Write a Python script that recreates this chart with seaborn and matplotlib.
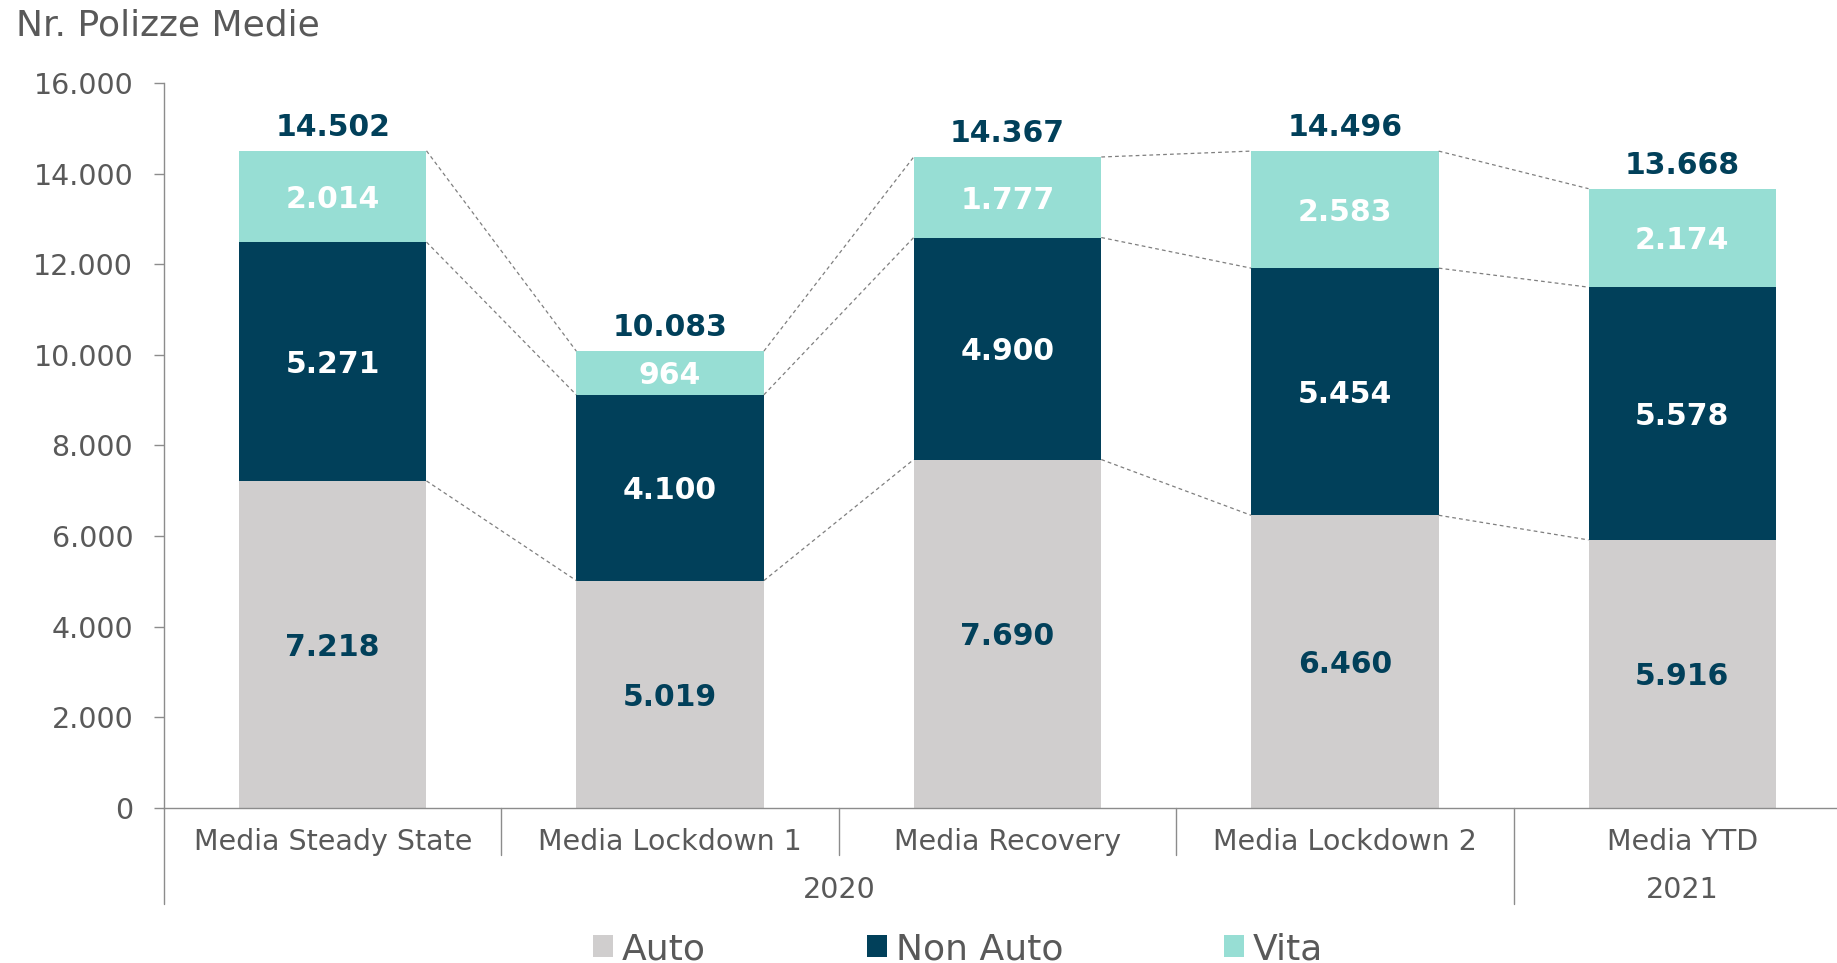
import numpy as np
import pandas as pd
import matplotlib
matplotlib.use("Agg")
import matplotlib.pyplot as plt
from matplotlib.patches import Patch
import seaborn as sns

# ---------------- data ----------------
categories = ["Media Steady State", "Media Lockdown 1", "Media Recovery",
              "Media Lockdown 2", "Media YTD"]
years = ["2020", "2021"]
year_spans = [4, 1]
auto = [7218, 5019, 7690, 6460, 5916]
non_auto = [5271, 4100, 4900, 5454, 5578]
vita = [2014, 964, 1777, 2583, 2174]
totals = [14502, 10083, 14367, 14496, 13668]
series_names = ["Auto", "Non Auto", "Vita"]
yticks = [0, 2000, 4000, 6000, 8000, 10000, 12000, 14000, 16000]
title = "Nr. Polizze Medie"

# ---------------- style ----------------
C_AUTO = "#D0CECE"
C_NON = "#01405A"
C_VITA = "#97DED4"
GRAY_TXT = "#595959"
GRAY_LINE = "#8C8C8C"

sns.set_theme(style="white")
plt.rcParams["font.family"] = ["DejaVu Sans"]

W, H = 1837, 963
fig = plt.figure(figsize=(W / 100, H / 100), dpi=100)
x0, x1, yb, yt = 164, 1851, 808, 83
ax = fig.add_axes([x0 / W, 1 - yb / H, (x1 - x0) / W, (yb - yt) / H])

c1 = np.array(auto)
c2 = c1 + np.array(non_auto)
c3 = c2 + np.array(vita)
df = pd.DataFrame({"cat": categories, "c1": c1, "c2": c2, "c3": c3})

bw = 0.556
for col, colr in (("c3", C_VITA), ("c2", C_NON), ("c1", C_AUTO)):
    sns.barplot(data=df, x="cat", y=col, color=colr, saturation=1, width=bw,
                linewidth=0, errorbar=None, ax=ax)

ax.set_xlim(-0.5, len(categories) - 0.5)
ax.set_ylim(0, 16000)

def fmt(v):
    return f"{v:,}".replace(",", ".")

# connectors
for lvl in (c1, c2, c3):
    for i in range(len(categories) - 1):
        ax.plot([i + bw / 2, i + 1 - bw / 2], [lvl[i], lvl[i + 1]],
                ls=(0, (3, 2.5)), color="#7F7F7F", lw=0.9, zorder=1)

# value labels
fs_val = 21.5
for i in range(len(categories)):
    ax.text(i, c1[i] / 2, fmt(auto[i]), ha="center", va="center_baseline",
            fontsize=fs_val, fontweight="bold", color=C_NON)
    ax.text(i, (c1[i] + c2[i]) / 2, fmt(non_auto[i]), ha="center", va="center_baseline",
            fontsize=fs_val, fontweight="bold", color="white")
    ax.text(i, (c2[i] + c3[i]) / 2, fmt(vita[i]), ha="center", va="center_baseline",
            fontsize=fs_val, fontweight="bold", color="white")
    ax.annotate(fmt(totals[i]), (i, c3[i]), xytext=(0, 19), textcoords="offset points",
                ha="center", va="center_baseline", fontsize=fs_val, fontweight="bold",
                color=C_NON)

# axes styling
sns.despine(ax=ax, top=True, right=True)
for s in ("left", "bottom"):
    ax.spines[s].set_color(GRAY_LINE)
    ax.spines[s].set_linewidth(1.0)
ax.set_yticks(yticks)
ax.set_yticklabels([fmt(v) for v in yticks])
ax.tick_params(axis="y", left=True, length=7.2, width=1, color=GRAY_LINE,
               labelsize=20.5, labelcolor=GRAY_TXT, pad=15)
ax.set_xticks([])
ax.set_xlabel("")
ax.set_ylabel("")

# category and year labels
tr = ax.get_xaxis_transform()
hpx = yb - yt
for i, c in enumerate(categories):
    ax.text(i, -(842 - yb) / hpx, c, transform=tr, ha="center", va="center",
            fontsize=20.5, color=GRAY_TXT, clip_on=False)
start = 0
bounds = [-0.5]
for y, span in zip(years, year_spans):
    mid = start + (span - 1) / 2
    ax.text(mid, -(890 - yb) / hpx, y, transform=tr, ha="center", va="center",
            fontsize=20.5, color=GRAY_TXT, clip_on=False)
    start += span
    bounds.append(start - 0.5)
for k in range(len(categories) + 1):
    xb = k - 0.5
    long = xb in bounds
    ybot = 904 if long else 855
    ax.plot([xb, xb], [0, -(ybot - yb) / hpx], transform=tr, color=GRAY_LINE,
            lw=1.0, clip_on=False)

# title
fig.text(16 / W, 1 - 26 / H, title, ha="left", va="center", fontsize=26, color=GRAY_TXT)

# legend
handles = [Patch(facecolor=c, edgecolor="none") for c in (C_AUTO, C_NON, C_VITA)]
fig.legend(handles, series_names, loc="center", bbox_to_anchor=(958 / W, 1 - 949 / H),
           ncol=3, frameon=False, fontsize=26, handlelength=0.55, handleheight=0.55,
           handletextpad=0.25, columnspacing=4.45, labelcolor=GRAY_TXT,
           borderaxespad=0, borderpad=0)

fig.savefig("out.png", dpi=100, facecolor="white")
